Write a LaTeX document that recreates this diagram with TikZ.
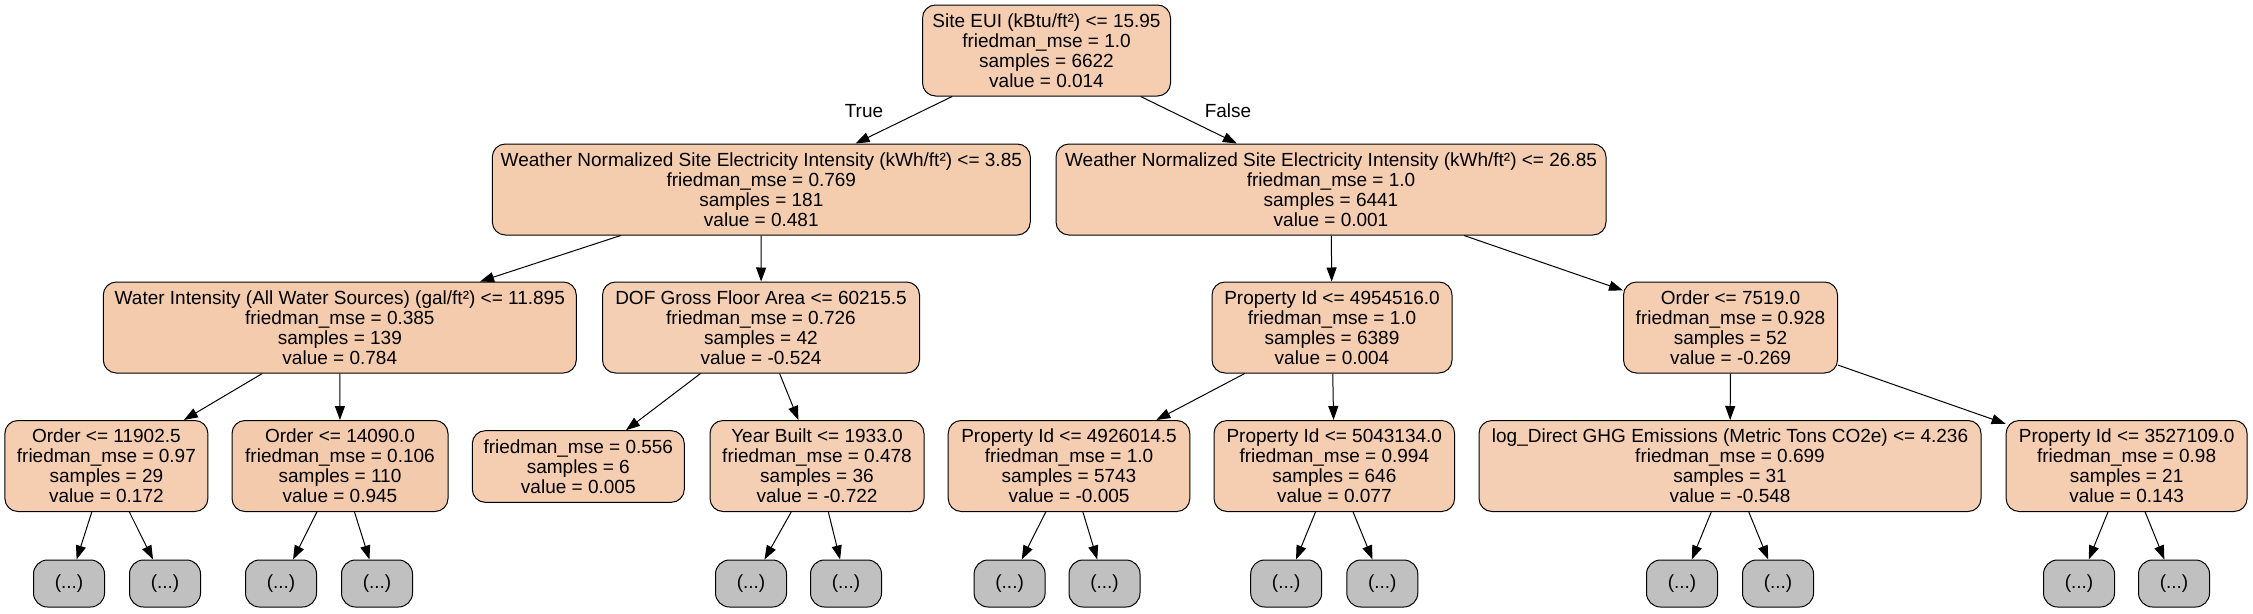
\documentclass[tikz,border=0pt]{standalone}
\usepackage{fontspec}
\setmainfont{Liberation Sans}
\usepackage{tikz}
\usetikzlibrary{arrows.meta}
\definecolor{orng}{RGB}{229,129,57}
\definecolor{stubgray}{RGB}{192,192,192}
\tikzset{
         treebox/.style 2 args=
          {
           draw, line width=1pt, rounded corners=13pt,
           align=center, inner sep=0pt,
           minimum height=91pt, minimum width=#1pt,
           fill=orng!#2, font=\fontsize{19}{20}\selectfont
          },
         stubbox/.style=
          {
           draw, line width=1pt, rounded corners=14pt,
           inner sep=0pt, minimum width=71pt, minimum height=47pt,
           fill=stubgray, font=\fontsize{19}{20}\selectfont
          },
         edge/.style={line width=1pt,-{Triangle[length=14pt,width=10pt]}},
         edgelabel/.style={font=\fontsize{19}{20}\selectfont}
        }

\begin{document}
\begin{tikzpicture}[x=1pt,y=-1pt]
\useasboundingbox (0,0) rectangle (2253,613);

%%% Root and first split

\node[treebox={248}{39.5}] (root) at (1046.5,50.5) {Site EUI (kBtu/ft²) <= 15.95\\friedman\_mse = 1.0\\samples = 6622\\value = 0.014}; % root
\node[treebox={538}{40.7}] (elecA) at (761.3,189.5) {Weather Normalized Site Electricity Intensity (kWh/ft²) <= 3.85\\friedman\_mse = 0.769\\samples = 181\\value = 0.481}; % left split
\node[treebox={550}{39.5}] (elecB) at (1331,189.5) {Weather Normalized Site Electricity Intensity (kWh/ft²) <= 26.85\\friedman\_mse = 1.0\\samples = 6441\\value = 0.001}; % right split

% Second level

\node[treebox={473}{41.5}] (water) at (339.8,327.5) {Water Intensity (All Water Sources) (gal/ft²) <= 11.895\\friedman\_mse = 0.385\\samples = 139\\value = 0.784};
\node[treebox={317}{38.2}] (dof) at (761,327.5) {DOF Gross Floor Area <= 60215.5\\friedman\_mse = 0.726\\samples = 42\\value = -0.524};
\node[treebox={240}{39.5}] (propA) at (1332,327.5) {Property Id <= 4954516.0\\friedman\_mse = 1.0\\samples = 6389\\value = 0.004};
\node[treebox={214}{38.8}] (orderA) at (1730.5,327.5) {Order <= 7519.0\\friedman\_mse = 0.928\\samples = 52\\value = -0.269};

% Third level

\node[treebox={203}{39.9}] (orderB) at (106.4,466) {Order <= 11902.5\\friedman\_mse = 0.97\\samples = 29\\value = 0.172};
\node[treebox={216}{41.9}] (orderC) at (340,466) {Order <= 14090.0\\friedman\_mse = 0.106\\samples = 110\\value = 0.945};
\node[treebox={212}{39.5},minimum height=71.6pt] (leaf) at (578.3,466.5) {friedman\_mse = 0.556\\samples = 6\\value = 0.005}; % leaf
\node[treebox={214}{37.7}] (built) at (817,466) {Year Built <= 1933.0\\friedman\_mse = 0.478\\samples = 36\\value = -0.722};
\node[treebox={241.6}{39.5}] (propB) at (1069,466) {Property Id <= 4926014.5\\friedman\_mse = 1.0\\samples = 5743\\value = -0.005};
\node[treebox={240.6}{39.7}] (propC) at (1334.3,466) {Property Id <= 5043134.0\\friedman\_mse = 0.994\\samples = 646\\value = 0.077};
\node[treebox={502}{38.1}] (ghg) at (1730,466) {log\_Direct GHG Emissions (Metric Tons CO2e) <= 4.236\\friedman\_mse = 0.699\\samples = 31\\value = -0.548};
\node[treebox={241}{39.9}] (propD) at (2126.6,466) {Property Id <= 3527109.0\\friedman\_mse = 0.98\\samples = 21\\value = 0.143};

% Truncated subtrees

\node[stubbox] (s1) at (69,583.5) {(...)};
\node[stubbox] (s2) at (165,583.5) {(...)};
\node[stubbox] (s3) at (281,583.5) {(...)};
\node[stubbox] (s4) at (377,583.5) {(...)};
\node[stubbox] (s5) at (751,583.5) {(...)};
\node[stubbox] (s6) at (846,583.5) {(...)};
\node[stubbox] (s7) at (1009.6,583.5) {(...)};
\node[stubbox] (s8) at (1104.5,583.5) {(...)};
\node[stubbox] (s9) at (1286.2,583.5) {(...)};
\node[stubbox] (s10) at (1382.3,583.5) {(...)};
\node[stubbox] (s11) at (1682,583.5) {(...)};
\node[stubbox] (s12) at (1778,583.5) {(...)};
\node[stubbox] (s13) at (2079,583.5) {(...)};
\node[stubbox] (s14) at (2174,583.5) {(...)};

% Edges

\draw[edge] (root) -- (elecA);
\draw[edge] (root) -- (elecB);
\node[edgelabel] (truelbl) at (864,111) {True}; % True label
\node[edgelabel] (falselbl) at (1228,111) {False}; % False label
\draw[edge] (elecA) -- (water);
\draw[edge] (elecA) -- (dof);
\draw[edge] (elecB) -- (propA);
\draw[edge] (elecB) -- (orderA);
\draw[edge] (water) -- (orderB);
\draw[edge] (water) -- (orderC);
\draw[edge] (dof) -- (leaf);
\draw[edge] (dof) -- (built);
\draw[edge] (propA) -- (propB);
\draw[edge] (propA) -- (propC);
\draw[edge] (orderA) -- (ghg);
\draw[edge] (orderA) -- (propD);
\draw[edge] (orderB) -- (s1);
\draw[edge] (orderB) -- (s2);
\draw[edge] (orderC) -- (s3);
\draw[edge] (orderC) -- (s4);
\draw[edge] (built) -- (s5);
\draw[edge] (built) -- (s6);
\draw[edge] (propB) -- (s7);
\draw[edge] (propB) -- (s8);
\draw[edge] (propC) -- (s9);
\draw[edge] (propC) -- (s10);
\draw[edge] (ghg) -- (s11);
\draw[edge] (ghg) -- (s12);
\draw[edge] (propD) -- (s13);
\draw[edge] (propD) -- (s14);
\end{tikzpicture}
\end{document}
